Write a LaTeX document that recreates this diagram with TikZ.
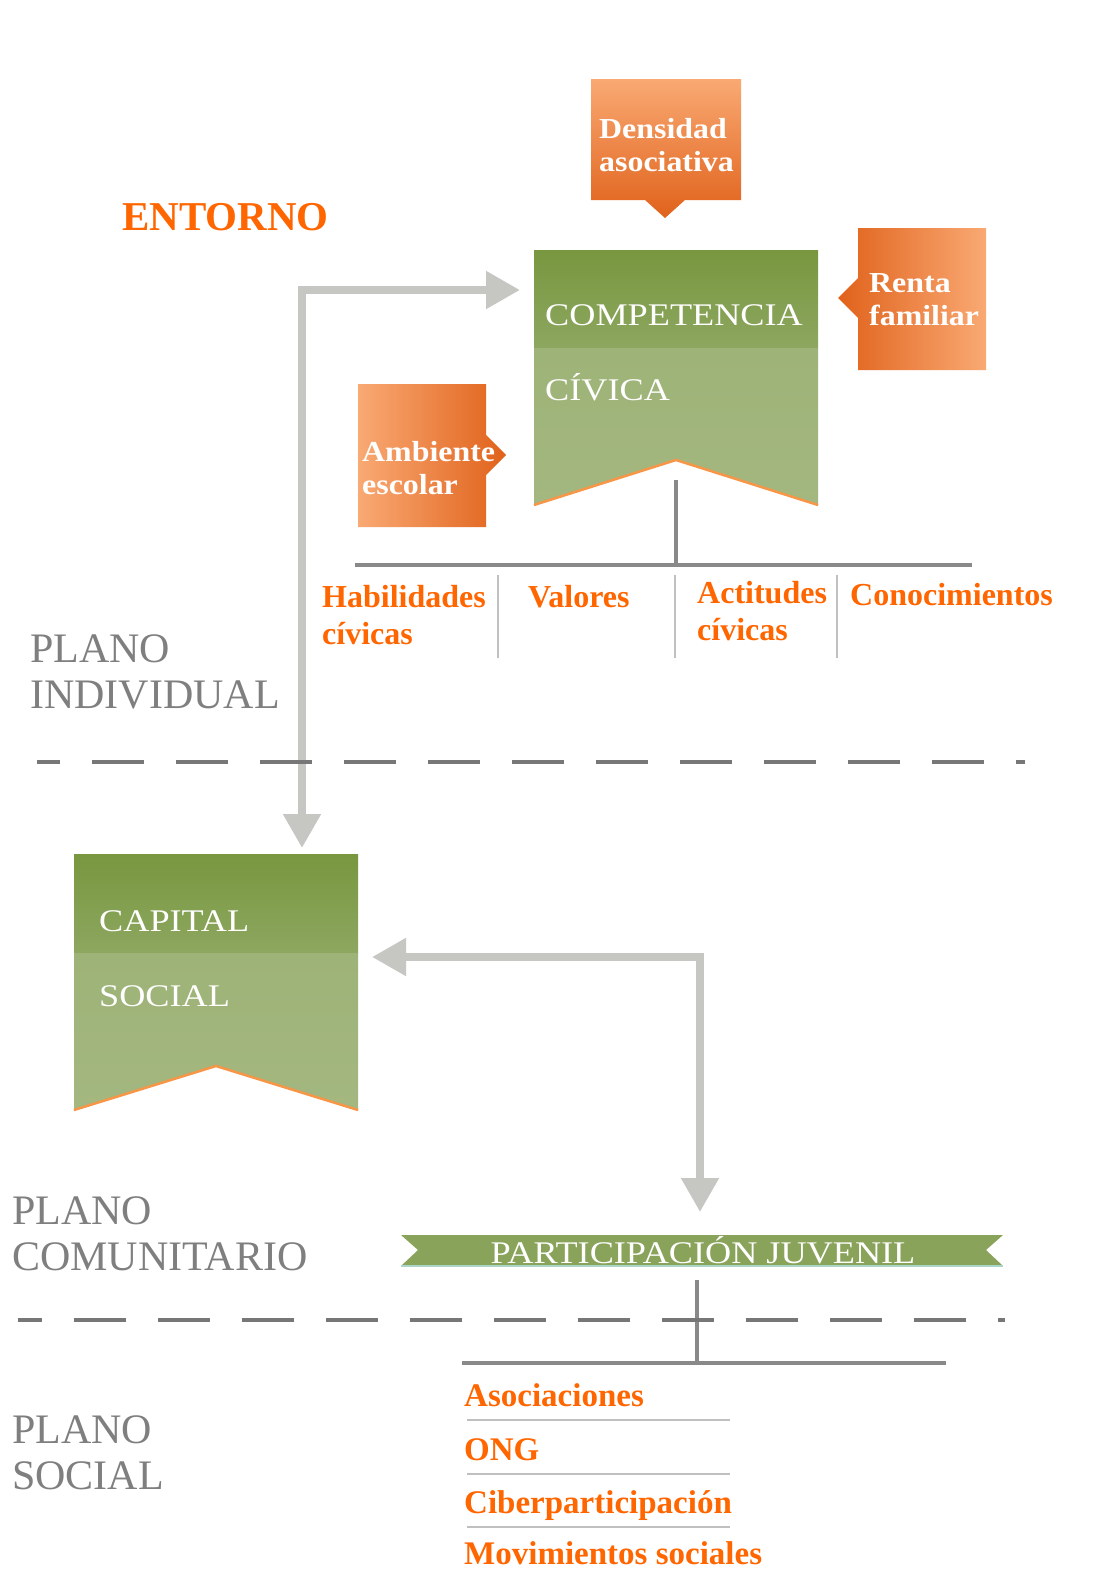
\documentclass[tikz,border=0pt]{standalone}
\usepackage{fontspec}
\setmainfont{Liberation Serif}
\newfontfamily\ancha[FakeStretch=1.15]{Liberation Serif}
\newfontfamily\anchab[FakeStretch=1.1]{Liberation Serif}
\usetikzlibrary{arrows.meta}

\definecolor{verdeA}{HTML}{78973F}
\definecolor{verdeB}{HTML}{8DA760}
\definecolor{verdeC}{HTML}{9EB377}
\definecolor{verdeD}{HTML}{A3B780}
\definecolor{verdecinta}{HTML}{8AA35A}
\definecolor{bordecinta}{HTML}{A9D6C9}
\definecolor{naranjaA}{HTML}{F9A973}
\definecolor{naranjaB}{HTML}{E0621B}
\definecolor{naranjatexto}{HTML}{FF6600}
\definecolor{naranjaborde}{HTML}{F79646}
\definecolor{grisplano}{HTML}{7F7F7F}
\definecolor{grisflecha}{HTML}{C6C7C2}
\definecolor{grisarbol}{HTML}{898989}
\definecolor{grisdiv}{HTML}{C0C0C0}
\definecolor{grisraya}{HTML}{777777}

\begin{document}
\begin{tikzpicture}[x=1pt, y=-1pt,
	plano/.style={anchor=base west, inner sep=0pt, align=left, text=grisplano, font=\fontsize{42}{46}\selectfont},
	verde/.style={anchor=base west, inner sep=0pt, text=white, font=\ancha\fontsize{31.5}{36}\selectfont},
	nota/.style={anchor=base west, inner sep=0pt, align=left, text=white, font=\anchab\bfseries\fontsize{29}{33}\selectfont},
	etiqueta/.style={anchor=base west, inner sep=0pt, align=left, text=naranjatexto, font=\bfseries\fontsize{32}{37}\selectfont},
	lista/.style={etiqueta, font=\bfseries\fontsize{33}{38}\selectfont},
	flecha/.style={draw=grisflecha, line width=8pt, {Triangle[width=36pt,length=34pt]}-{Triangle[width=36pt,length=34pt]}},
	arbol/.style={draw=grisarbol, line width=3.5pt},
	divisor/.style={draw=grisdiv, line width=2pt},
	raya/.style={draw=grisraya, line width=4pt, dash pattern=on 52pt off 32pt}]

	\useasboundingbox (0,0) rectangle (1096,1574);
	\fill[white] (0,0) rectangle (1096,1574);

	% competencia civica
	\shade[top color=verdeA, bottom color=verdeB] (534,250) rectangle (818,348);
	\shade[top color=verdeC, bottom color=verdeD] (534,348) -- (818,348) -- (818,505) -- (676,460) -- (534,505) -- cycle;
	\draw[naranjaborde, line width=2.5pt] (534,505) -- (676,460) -- (818,505);
	\node[verde] at (545,325) (comp) {COMPETENCIA};
	\node[verde] at (545,400) (civica) {CÍVICA};

	% entorno
	\shade[top color=naranjaA, bottom color=naranjaB] (591,79) -- (741,79) -- (741,200) -- (685,200) -- (665,218) -- (645,200) -- (591,200) -- cycle;
	\node[nota] at (599,171) (densidad) {Densidad\\asociativa};
	\shade[left color=naranjaB, right color=naranjaA] (858,228) -- (986,228) -- (986,370) -- (858,370) -- (858,318) -- (838,298) -- (858,278) -- cycle;
	\node[nota] at (869,325) (renta) {Renta\\familiar};
	\shade[left color=naranjaA, right color=naranjaB] (358,384) -- (486,384) -- (486,435) -- (506,455) -- (486,475) -- (486,527) -- (358,527) -- cycle;
	\node[nota] at (362,494) (ambiente) {Ambiente\\escolar};
	\node[anchor=base west, inner sep=0pt, text=naranjatexto, font=\bfseries\fontsize{41}{46}\selectfont] at (122,230) (entorno) {ENTORNO};

	\coordinate (haciacomp) at (520,290);
	\coordinate (haciacap) at (302,848);
	\draw[flecha] (haciacap) |- (haciacomp);

	\coordinate (raiz) at (676,480);
	\coordinate (rama) at (676,565);
	\coordinate (ramaizq) at (355,565);
	\coordinate (ramader) at (972,565);
	\draw[arbol] (raiz) -- (rama);
	\draw[arbol] (ramaizq) -- (ramader);
	\foreach \x in {498,675,837}
		\draw[divisor] (\x,575) -- (\x,658);

	\node[etiqueta] at (322,644) (habil) {Habilidades\\cívicas};
	\node[etiqueta] at (528,607) (valores) {Valores};
	\node[etiqueta] at (697,640) (actit) {Actitudes\\cívicas};
	\node[etiqueta] at (850,605) (conoc) {Conocimientos};

	\node[plano] at (30,708) (individual) {PLANO\\INDIVIDUAL};
	\draw[raya, dash phase=29pt] (37,762) -- (1025,762);

	% capital social
	\shade[top color=verdeA, bottom color=verdeB] (74,854) rectangle (358,953);
	\shade[top color=verdeC, bottom color=verdeD] (74,953) -- (358,953) -- (358,1110) -- (216,1066) -- (74,1110) -- cycle;
	\draw[naranjaborde, line width=2.5pt] (74,1110) -- (216,1066) -- (358,1110);
	\node[verde] at (99,931) (capital) {CAPITAL};
	\node[verde] at (99,1006) (social) {SOCIAL};

	\coordinate (haciacapital) at (372,957);
	\coordinate (haciapart) at (700,1212);
	\draw[flecha] (haciacapital) -| (haciapart);

	% participacion juvenil
	\fill[verdecinta] (401,1235) -- (1003,1235) -- (986,1250) -- (1003,1266) -- (401,1266) -- (418,1250) -- cycle;
	\draw[bordecinta, line width=1.5pt] (401,1266) -- (1003,1266);
	\node[verde, anchor=base] at (703,1263) (part) {PARTICIPACIÓN JUVENIL};

	\node[plano] at (12,1270) (comunitario) {PLANO\\COMUNITARIO};

	\coordinate (raiz2) at (697,1280);
	\coordinate (rama2) at (697,1363);
	\coordinate (rama2izq) at (462,1363);
	\coordinate (rama2der) at (946,1363);
	\draw[arbol] (raiz2) -- (rama2);
	\draw[arbol] (rama2izq) -- (rama2der);
	\draw[raya, dash phase=28pt] (18,1320) -- (1005,1320);

	\node[plano] at (12,1489) (plsocial) {PLANO\\SOCIAL};

	\node[lista] at (464,1406) (asoc) {Asociaciones};
	\node[lista] at (464,1460) (ong) {ONG};
	\node[lista] at (464,1513) (ciber) {Ciberparticipación};
	\node[lista] at (464,1564) (movim) {Movimientos sociales};
	\foreach \y in {1420,1474,1527}
		\draw[divisor] (467,\y) -- (730,\y);
\end{tikzpicture}
\end{document}
